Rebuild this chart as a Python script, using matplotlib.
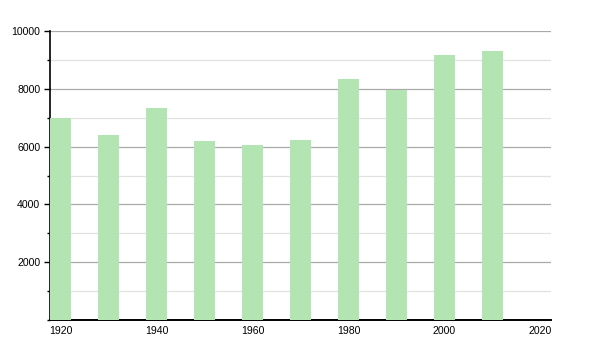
import numpy as np
import matplotlib.pyplot as plt
from matplotlib.ticker import MultipleLocator

plt.rcParams['font.family'] = ['Liberation Sans', 'DejaVu Sans']

# Datos de poblacion por censo
anios = [1920, 1930, 1940, 1950, 1960, 1970, 1980, 1990, 2000, 2010]
poblacion = [6990, 6395, 7330, 6185, 6050, 6220, 8350, 7960, 9170, 9300]

fig = plt.figure(figsize=(6, 3.5), dpi=100)
ax = fig.add_axes([50 / 600, 30 / 350, 501 / 600, 289 / 350])

ax.bar(anios, poblacion, width=4.4, color='#b3e5b3', zorder=3)

ax.set_xlim(1917.8, 2022.2)
ax.set_ylim(0, 10000)

ax.yaxis.set_major_locator(MultipleLocator(2000))
ax.yaxis.set_minor_locator(MultipleLocator(1000))
ax.xaxis.set_major_locator(MultipleLocator(20))

ax.grid(which='major', axis='y', color='#aaaaaa', linewidth=0.9, zorder=1)
ax.grid(which='minor', axis='y', color='#e2e2e2', linewidth=0.9, zorder=1)

# sin etiqueta en el cero
ax.set_yticks([2000, 4000, 6000, 8000, 10000])

for s in ['top', 'right']:
    ax.spines[s].set_visible(False)
ax.spines['left'].set_linewidth(1.2)
ax.spines['bottom'].set_linewidth(1.4)

ax.tick_params(axis='y', which='major', length=4, width=1, pad=3, labelsize=7.6, colors='black')
ax.tick_params(axis='y', which='minor', length=2.5, width=1)
ax.tick_params(axis='x', which='both', length=0, pad=4, labelsize=7.6)

plt.savefig('out.png', dpi=100)
